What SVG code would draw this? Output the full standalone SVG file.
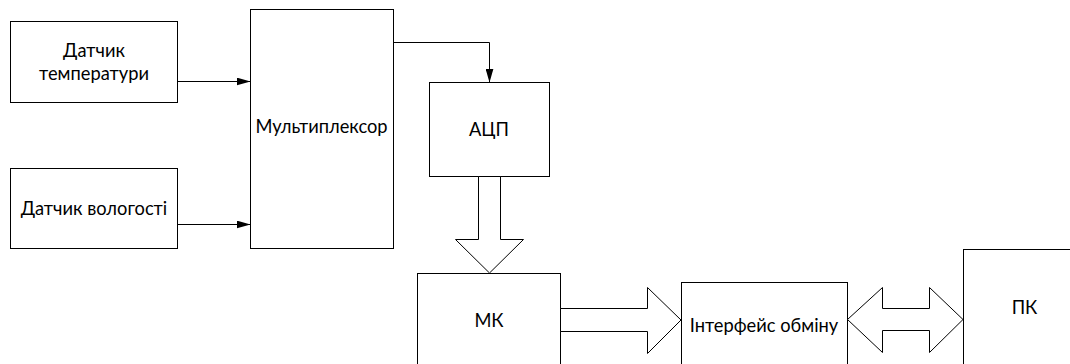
<svg xmlns="http://www.w3.org/2000/svg" width="1070" height="364" viewBox="0 0 1070 364">
<style>
.box{fill:#fff;stroke:#000;stroke-width:1}
.t{font-family:Lato,"Open Sans",sans-serif;font-size:18.3px;fill:#000;text-anchor:middle}
.ln{fill:none;stroke:#000;stroke-width:1}
.blk{fill:#fff;stroke:#000;stroke-width:1;stroke-linejoin:miter}
</style>
<defs>
<marker id="ah" viewBox="0 0 14 8" refX="14" refY="4" markerWidth="14" markerHeight="8" markerUnits="userSpaceOnUse" orient="auto">
<path d="M0,0 L14,4 L0,8 Z" fill="#000"/>
</marker>
</defs>
<rect width="1070" height="364" fill="#fff"/>
<g id="n-temp"><rect class="box" x="10.5" y="21.5" width="167" height="81"/><text class="t" x="94" y="57">Датчик</text><text class="t" x="94" y="80">температури</text></g>
<g id="n-hum"><rect class="box" x="10.5" y="168.5" width="167" height="80"/><text class="t" x="94" y="215">Датчик вологості</text></g>
<g id="n-mux"><rect class="box" x="250.5" y="9.5" width="143" height="239"/><text class="t" x="321.5" y="133">Мультиплексор</text></g>
<g id="n-adc"><rect class="box" x="429.5" y="82.5" width="120" height="94"/><text class="t" x="489" y="136">АЦП</text></g>
<g id="n-mk"><rect class="box" x="417.5" y="273.5" width="143" height="110"/><text class="t" x="489" y="327">МК</text></g>
<g id="n-if"><rect class="box" x="681.5" y="282.5" width="166" height="100"/><text class="t" x="764" y="332">Інтерфейс обміну</text></g>
<g id="n-pc"><rect class="box" x="963.5" y="249.5" width="130" height="130"/><text class="t" x="1024.5" y="314">ПК</text></g>
<g id="connectors">
<line class="ln" x1="177.5" y1="81.5" x2="250.5" y2="81.5" marker-end="url(#ah)"/>
<line class="ln" x1="177.5" y1="224.5" x2="250.5" y2="224.5" marker-end="url(#ah)"/>
<polyline class="ln" points="393.5,42.5 489.5,42.5 489.5,82.5" marker-end="url(#ah)"/>
<polygon class="blk" points="478.5,176.5 478.5,239.5 455.5,239.5 489.5,273 523.5,239.5 500.5,239.5 500.5,176.5"/>
<polygon class="blk" points="560.5,308.5 647.5,308.5 647.5,287.5 681,320 647.5,353.5 647.5,331.5 560.5,331.5"/>
<polygon class="blk" points="847.5,319.5 882.5,287.5 882.5,308.5 929.5,308.5 929.5,287.5 963,319.5 929.5,352.5 929.5,330.5 882.5,330.5 882.5,352.5"/>
</g>
</svg>
